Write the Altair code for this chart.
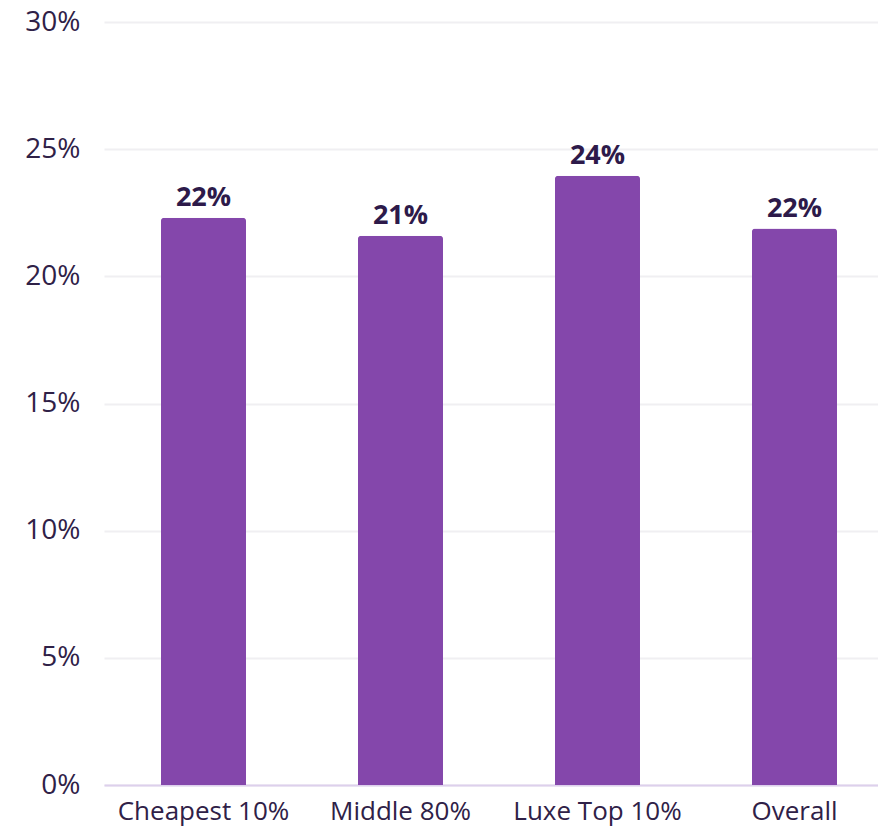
import altair as alt
import pandas as pd

categories = ["Cheapest 10%", "Middle 80%", "Luxe Top 10%", "Overall"]
values = [0.223, 0.216, 0.2395, 0.2188]
labels = ["22%", "21%", "24%", "22%"]

df = pd.DataFrame({"cat": categories, "val": values, "lab": labels})

FONT = "Open Sans"

base = alt.Chart(df).encode(
    x=alt.X("cat:N", sort=categories,
            scale=alt.Scale(paddingInner=0.5685, paddingOuter=0.2487, align=0.5816),
            axis=alt.Axis(title=None, labelAngle=0, labelFontSize=26, labelFont=FONT,
                          labelColor="#2f2147", labelPadding=13, ticks=False,
                          domainColor="#ddd0ec", domainWidth=2)),
    y=alt.Y("val:Q", scale=alt.Scale(domain=[0, 0.30], nice=False),
            axis=alt.Axis(title=None, format=".0%", values=[0, 0.05, 0.10, 0.15, 0.20, 0.25, 0.30],
                          labelFontSize=28, labelFont=FONT, labelColor="#2f2147",
                          labelPadding=24, ticks=False, domain=False,
                          gridColor="#f0eff2", gridWidth=2)),
)

bars = base.mark_bar(color="#8447AB", cornerRadiusTopLeft=3, cornerRadiusTopRight=3)
text = base.mark_text(baseline="alphabetic", dy=-12, fontSize=27, fontWeight="bold",
                      font=FONT, color="#2d1a4a").encode(text="lab:N")

chart = (bars + text).properties(
    width=774, height=763,
    autosize=alt.AutoSizeParams(type="none"),
    padding={"left": 96, "top": 14, "right": 0, "bottom": 42},
).configure_view(stroke=None)

chart.save("out.html", embed_options={"renderer": "svg", "actions": False})
